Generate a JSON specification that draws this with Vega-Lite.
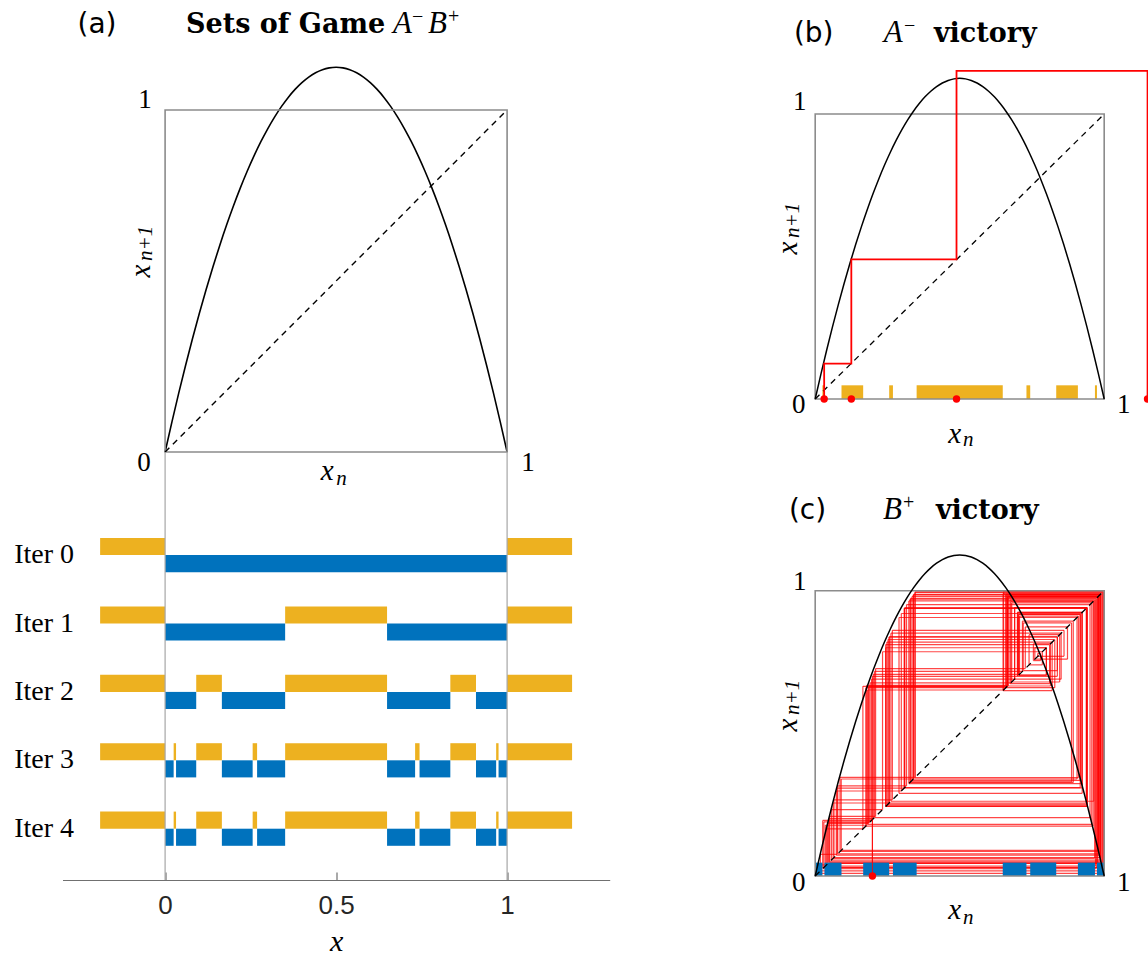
{
  "$schema": "https://vega.github.io/schema/vega-lite/v6.json",
  "background": "white",
  "padding": {"left": 13.5, "top": 0, "right": 0, "bottom": 0},
  "config": {"view": {"stroke": null}, "axis": {"grid": false}},
  "datasets": {
    "curve": [
      {"x": 0, "y": 0}, {"x": 0.02, "y": 0.0882}, {"x": 0.04, "y": 0.1728}, {"x": 0.06, "y": 0.2538}, {"x": 0.08, "y": 0.3312},
      {"x": 0.1, "y": 0.405}, {"x": 0.12, "y": 0.4752}, {"x": 0.14, "y": 0.5418}, {"x": 0.16, "y": 0.6048}, {"x": 0.18, "y": 0.6642},
      {"x": 0.2, "y": 0.72}, {"x": 0.22, "y": 0.7722}, {"x": 0.24, "y": 0.8208}, {"x": 0.26, "y": 0.8658}, {"x": 0.28, "y": 0.9072},
      {"x": 0.3, "y": 0.945}, {"x": 0.32, "y": 0.9792}, {"x": 0.34, "y": 1.0098}, {"x": 0.36, "y": 1.0368}, {"x": 0.38, "y": 1.0602},
      {"x": 0.4, "y": 1.08}, {"x": 0.42, "y": 1.0962}, {"x": 0.44, "y": 1.1088}, {"x": 0.46, "y": 1.1178}, {"x": 0.48, "y": 1.1232},
      {"x": 0.5, "y": 1.125}, {"x": 0.52, "y": 1.1232}, {"x": 0.54, "y": 1.1178}, {"x": 0.56, "y": 1.1088}, {"x": 0.58, "y": 1.0962},
      {"x": 0.6, "y": 1.08}, {"x": 0.62, "y": 1.0602}, {"x": 0.64, "y": 1.0368}, {"x": 0.66, "y": 1.0098}, {"x": 0.68, "y": 0.9792},
      {"x": 0.7, "y": 0.945}, {"x": 0.72, "y": 0.9072}, {"x": 0.74, "y": 0.8658}, {"x": 0.76, "y": 0.8208}, {"x": 0.78, "y": 0.7722},
      {"x": 0.8, "y": 0.72}, {"x": 0.82, "y": 0.6642}, {"x": 0.84, "y": 0.6048}, {"x": 0.86, "y": 0.5418}, {"x": 0.88, "y": 0.4752},
      {"x": 0.9, "y": 0.405}, {"x": 0.92, "y": 0.3312}, {"x": 0.94, "y": 0.2538}, {"x": 0.96, "y": 0.1728}, {"x": 0.98, "y": 0.0882},
      {"x": 1, "y": 0}
    ],
    "sets": [
      {"iter": "Iter 0", "set": "A", "x0": -0.19, "x1": 0}, {"iter": "Iter 0", "set": "A", "x0": 1, "x1": 1.19}, {"iter": "Iter 0", "set": "B", "x0": 0, "x1": 1},
      {"iter": "Iter 1", "set": "A", "x0": -0.19, "x1": 0}, {"iter": "Iter 1", "set": "A", "x0": 0.351, "x1": 0.649}, {"iter": "Iter 1", "set": "A", "x0": 1, "x1": 1.19},
      {"iter": "Iter 1", "set": "B", "x0": 0, "x1": 0.351}, {"iter": "Iter 1", "set": "B", "x0": 0.649, "x1": 1},
      {"iter": "Iter 2", "set": "A", "x0": -0.19, "x1": 0}, {"iter": "Iter 2", "set": "A", "x0": 0.091, "x1": 0.166}, {"iter": "Iter 2", "set": "A", "x0": 0.351, "x1": 0.649},
      {"iter": "Iter 2", "set": "A", "x0": 0.834, "x1": 0.909}, {"iter": "Iter 2", "set": "A", "x0": 1, "x1": 1.19},
      {"iter": "Iter 2", "set": "B", "x0": 0, "x1": 0.091}, {"iter": "Iter 2", "set": "B", "x0": 0.166, "x1": 0.351}, {"iter": "Iter 2", "set": "B", "x0": 0.649, "x1": 0.834}, {"iter": "Iter 2", "set": "B", "x0": 0.909, "x1": 1},
      {"iter": "Iter 3", "set": "A", "x0": -0.19, "x1": 0}, {"iter": "Iter 3", "set": "A", "x0": 0.025, "x1": 0.032}, {"iter": "Iter 3", "set": "A", "x0": 0.091, "x1": 0.166},
      {"iter": "Iter 3", "set": "A", "x0": 0.256, "x1": 0.269}, {"iter": "Iter 3", "set": "A", "x0": 0.351, "x1": 0.649}, {"iter": "Iter 3", "set": "A", "x0": 0.731, "x1": 0.744},
      {"iter": "Iter 3", "set": "A", "x0": 0.834, "x1": 0.909}, {"iter": "Iter 3", "set": "A", "x0": 0.968, "x1": 0.975}, {"iter": "Iter 3", "set": "A", "x0": 1, "x1": 1.19},
      {"iter": "Iter 3", "set": "B", "x0": 0, "x1": 0.025}, {"iter": "Iter 3", "set": "B", "x0": 0.032, "x1": 0.091}, {"iter": "Iter 3", "set": "B", "x0": 0.166, "x1": 0.256},
      {"iter": "Iter 3", "set": "B", "x0": 0.269, "x1": 0.351}, {"iter": "Iter 3", "set": "B", "x0": 0.649, "x1": 0.731}, {"iter": "Iter 3", "set": "B", "x0": 0.744, "x1": 0.834},
      {"iter": "Iter 3", "set": "B", "x0": 0.909, "x1": 0.968}, {"iter": "Iter 3", "set": "B", "x0": 0.975, "x1": 1},
      {"iter": "Iter 4", "set": "A", "x0": -0.19, "x1": 0}, {"iter": "Iter 4", "set": "A", "x0": 0.025, "x1": 0.032}, {"iter": "Iter 4", "set": "A", "x0": 0.091, "x1": 0.166},
      {"iter": "Iter 4", "set": "A", "x0": 0.256, "x1": 0.269}, {"iter": "Iter 4", "set": "A", "x0": 0.351, "x1": 0.649}, {"iter": "Iter 4", "set": "A", "x0": 0.731, "x1": 0.744},
      {"iter": "Iter 4", "set": "A", "x0": 0.834, "x1": 0.909}, {"iter": "Iter 4", "set": "A", "x0": 0.968, "x1": 0.975}, {"iter": "Iter 4", "set": "A", "x0": 1, "x1": 1.19},
      {"iter": "Iter 4", "set": "B", "x0": 0, "x1": 0.025}, {"iter": "Iter 4", "set": "B", "x0": 0.032, "x1": 0.091}, {"iter": "Iter 4", "set": "B", "x0": 0.166, "x1": 0.256},
      {"iter": "Iter 4", "set": "B", "x0": 0.269, "x1": 0.351}, {"iter": "Iter 4", "set": "B", "x0": 0.649, "x1": 0.731}, {"iter": "Iter 4", "set": "B", "x0": 0.744, "x1": 0.834},
      {"iter": "Iter 4", "set": "B", "x0": 0.909, "x1": 0.968}, {"iter": "Iter 4", "set": "B", "x0": 0.975, "x1": 1}
    ],
    "bpath": [
      {"i": 0, "x": 0.031, "y": 0}, {"i": 1, "x": 0.031, "y": 0.124}, {"i": 2, "x": 0.125, "y": 0.124}, {"i": 3, "x": 0.125, "y": 0.49},
      {"i": 4, "x": 0.489, "y": 0.49}, {"i": 5, "x": 0.489, "y": 1.151}, {"i": 6, "x": 1.15, "y": 1.151}, {"i": 7, "x": 1.15, "y": 0}
    ],
    "bdots": [{"x": 0.031}, {"x": 0.125}, {"x": 0.489}, {"x": 1.15}],
    "cdots": [{"x": 0.198}],
    "cweb": [
      {"i": 0, "x": 0.198, "y": 0},
      {"i": 1, "x": 0.198, "y": 0.7}, {"i": 2, "x": 0.7, "y": 0.7},
      {"i": 3, "x": 0.7, "y": 0.924}, {"i": 4, "x": 0.924, "y": 0.924},
      {"i": 5, "x": 0.924, "y": 0.309}, {"i": 6, "x": 0.309, "y": 0.309},
      {"i": 7, "x": 0.309, "y": 0.939}, {"i": 8, "x": 0.939, "y": 0.939},
      {"i": 9, "x": 0.939, "y": 0.252}, {"i": 10, "x": 0.252, "y": 0.252},
      {"i": 11, "x": 0.252, "y": 0.829}, {"i": 12, "x": 0.829, "y": 0.829},
      {"i": 13, "x": 0.829, "y": 0.66}, {"i": 14, "x": 0.66, "y": 0.66},
      {"i": 15, "x": 0.66, "y": 0.987}, {"i": 16, "x": 0.987, "y": 0.987},
      {"i": 17, "x": 0.987, "y": 0.056}, {"i": 18, "x": 0.056, "y": 0.056},
      {"i": 19, "x": 0.056, "y": 0.233}, {"i": 20, "x": 0.233, "y": 0.233},
      {"i": 21, "x": 0.233, "y": 0.786}, {"i": 22, "x": 0.786, "y": 0.786},
      {"i": 23, "x": 0.786, "y": 0.74}, {"i": 24, "x": 0.74, "y": 0.74},
      {"i": 25, "x": 0.74, "y": 0.846}, {"i": 26, "x": 0.846, "y": 0.846},
      {"i": 27, "x": 0.846, "y": 0.68}, {"i": 28, "x": 0.68, "y": 0.68},
      {"i": 29, "x": 0.68, "y": 0.957}, {"i": 30, "x": 0.957, "y": 0.957},
      {"i": 31, "x": 0.957, "y": 0.181}, {"i": 32, "x": 0.181, "y": 0.181},
      {"i": 33, "x": 0.181, "y": 0.652}, {"i": 34, "x": 0.652, "y": 0.652},
      {"i": 35, "x": 0.652, "y": 0.998}, {"i": 36, "x": 0.998, "y": 0.998},
      {"i": 37, "x": 0.998, "y": 0.009}, {"i": 38, "x": 0.009, "y": 0.009},
      {"i": 39, "x": 0.009, "y": 0.039}, {"i": 40, "x": 0.039, "y": 0.039},
      {"i": 41, "x": 0.039, "y": 0.165}, {"i": 42, "x": 0.165, "y": 0.165},
      {"i": 43, "x": 0.165, "y": 0.665}, {"i": 44, "x": 0.665, "y": 0.665},
      {"i": 45, "x": 0.665, "y": 0.98}, {"i": 46, "x": 0.98, "y": 0.98},
      {"i": 47, "x": 0.98, "y": 0.086}, {"i": 48, "x": 0.086, "y": 0.086},
      {"i": 49, "x": 0.086, "y": 0.346}, {"i": 50, "x": 0.346, "y": 0.346},
      {"i": 51, "x": 0.346, "y": 0.996}, {"i": 52, "x": 0.996, "y": 0.996},
      {"i": 53, "x": 0.996, "y": 0.018}, {"i": 54, "x": 0.018, "y": 0.018},
      {"i": 55, "x": 0.018, "y": 0.076}, {"i": 56, "x": 0.076, "y": 0.076},
      {"i": 57, "x": 0.076, "y": 0.308}, {"i": 58, "x": 0.308, "y": 0.308},
      {"i": 59, "x": 0.308, "y": 0.938}, {"i": 60, "x": 0.938, "y": 0.938},
      {"i": 61, "x": 0.938, "y": 0.256}, {"i": 62, "x": 0.256, "y": 0.256},
      {"i": 63, "x": 0.256, "y": 0.838}, {"i": 64, "x": 0.838, "y": 0.838},
      {"i": 65, "x": 0.838, "y": 0.7}, {"i": 66, "x": 0.7, "y": 0.7},
      {"i": 67, "x": 0.7, "y": 0.924}, {"i": 68, "x": 0.924, "y": 0.924},
      {"i": 69, "x": 0.924, "y": 0.29}, {"i": 70, "x": 0.29, "y": 0.29},
      {"i": 71, "x": 0.29, "y": 0.906}, {"i": 72, "x": 0.906, "y": 0.906},
      {"i": 73, "x": 0.906, "y": 0.34}, {"i": 74, "x": 0.34, "y": 0.34},
      {"i": 75, "x": 0.34, "y": 0.987}, {"i": 76, "x": 0.987, "y": 0.987},
      {"i": 77, "x": 0.987, "y": 0.048}, {"i": 78, "x": 0.048, "y": 0.048},
      {"i": 79, "x": 0.048, "y": 0.201}, {"i": 80, "x": 0.201, "y": 0.201},
      {"i": 81, "x": 0.201, "y": 0.707}, {"i": 82, "x": 0.707, "y": 0.707},
      {"i": 83, "x": 0.707, "y": 0.911}, {"i": 84, "x": 0.911, "y": 0.911},
      {"i": 85, "x": 0.911, "y": 0.345}, {"i": 86, "x": 0.345, "y": 0.345},
      {"i": 87, "x": 0.345, "y": 0.994}, {"i": 88, "x": 0.994, "y": 0.994},
      {"i": 89, "x": 0.994, "y": 0.03}, {"i": 90, "x": 0.03, "y": 0.03},
      {"i": 91, "x": 0.03, "y": 0.19}, {"i": 92, "x": 0.19, "y": 0.19},
      {"i": 93, "x": 0.19, "y": 0.677}, {"i": 94, "x": 0.677, "y": 0.677},
      {"i": 95, "x": 0.677, "y": 0.962}, {"i": 96, "x": 0.962, "y": 0.962},
      {"i": 97, "x": 0.962, "y": 0.175}, {"i": 98, "x": 0.175, "y": 0.175},
      {"i": 99, "x": 0.175, "y": 0.66}, {"i": 100, "x": 0.66, "y": 0.66},
      {"i": 101, "x": 0.66, "y": 0.987}, {"i": 102, "x": 0.987, "y": 0.987},
      {"i": 103, "x": 0.987, "y": 0.05}, {"i": 104, "x": 0.05, "y": 0.05},
      {"i": 105, "x": 0.05, "y": 0.209}, {"i": 106, "x": 0.209, "y": 0.209},
      {"i": 107, "x": 0.209, "y": 0.727}, {"i": 108, "x": 0.727, "y": 0.727},
      {"i": 109, "x": 0.727, "y": 0.873}, {"i": 110, "x": 0.873, "y": 0.873},
      {"i": 111, "x": 0.873, "y": 0.76}, {"i": 112, "x": 0.76, "y": 0.76},
      {"i": 113, "x": 0.76, "y": 0.8}, {"i": 114, "x": 0.8, "y": 0.8},
      {"i": 115, "x": 0.8, "y": 0.704}, {"i": 116, "x": 0.704, "y": 0.704},
      {"i": 117, "x": 0.704, "y": 0.917}, {"i": 118, "x": 0.917, "y": 0.917},
      {"i": 119, "x": 0.917, "y": 0.335}, {"i": 120, "x": 0.335, "y": 0.335},
      {"i": 121, "x": 0.335, "y": 0.98}, {"i": 122, "x": 0.98, "y": 0.98},
      {"i": 123, "x": 0.98, "y": 0.078}, {"i": 124, "x": 0.078, "y": 0.078},
      {"i": 125, "x": 0.078, "y": 0.316}, {"i": 126, "x": 0.316, "y": 0.316},
      {"i": 127, "x": 0.316, "y": 0.951}, {"i": 128, "x": 0.951, "y": 0.951},
      {"i": 129, "x": 0.951, "y": 0.205}, {"i": 130, "x": 0.205, "y": 0.205},
      {"i": 131, "x": 0.205, "y": 0.717}, {"i": 132, "x": 0.717, "y": 0.717},
      {"i": 133, "x": 0.717, "y": 0.893}, {"i": 134, "x": 0.893, "y": 0.893},
      {"i": 135, "x": 0.893, "y": 0.328}, {"i": 136, "x": 0.328, "y": 0.328},
      {"i": 137, "x": 0.328, "y": 0.97}, {"i": 138, "x": 0.97, "y": 0.97},
      {"i": 139, "x": 0.97, "y": 0.035}, {"i": 140, "x": 0.035, "y": 0.035},
      {"i": 141, "x": 0.035, "y": 0.178}, {"i": 142, "x": 0.178, "y": 0.178},
      {"i": 143, "x": 0.178, "y": 0.668}, {"i": 144, "x": 0.668, "y": 0.668},
      {"i": 145, "x": 0.668, "y": 0.976}, {"i": 146, "x": 0.976, "y": 0.976},
      {"i": 147, "x": 0.976, "y": 0.044}, {"i": 148, "x": 0.044, "y": 0.044},
      {"i": 149, "x": 0.044, "y": 0.185}, {"i": 150, "x": 0.185, "y": 0.185},
      {"i": 151, "x": 0.185, "y": 0.663}, {"i": 152, "x": 0.663, "y": 0.663},
      {"i": 153, "x": 0.663, "y": 0.983}, {"i": 154, "x": 0.983, "y": 0.983},
      {"i": 155, "x": 0.983, "y": 0.073}, {"i": 156, "x": 0.073, "y": 0.073},
      {"i": 157, "x": 0.073, "y": 0.298}, {"i": 158, "x": 0.298, "y": 0.298},
      {"i": 159, "x": 0.298, "y": 0.92}, {"i": 160, "x": 0.92, "y": 0.92},
      {"i": 161, "x": 0.92, "y": 0.324}, {"i": 162, "x": 0.324, "y": 0.324},
      {"i": 163, "x": 0.324, "y": 0.964}, {"i": 164, "x": 0.964, "y": 0.964},
      {"i": 165, "x": 0.964, "y": 0.262}, {"i": 166, "x": 0.262, "y": 0.262},
      {"i": 167, "x": 0.262, "y": 0.851}, {"i": 168, "x": 0.851, "y": 0.851},
      {"i": 169, "x": 0.851, "y": 0.69}, {"i": 170, "x": 0.69, "y": 0.69},
      {"i": 171, "x": 0.69, "y": 0.941}, {"i": 172, "x": 0.941, "y": 0.941},
      {"i": 173, "x": 0.941, "y": 0.244}, {"i": 174, "x": 0.244, "y": 0.244},
      {"i": 175, "x": 0.244, "y": 0.811}, {"i": 176, "x": 0.811, "y": 0.811},
      {"i": 177, "x": 0.811, "y": 0.674}, {"i": 178, "x": 0.674, "y": 0.674},
      {"i": 179, "x": 0.674, "y": 0.967}, {"i": 180, "x": 0.967, "y": 0.967},
      {"i": 181, "x": 0.967, "y": 0.062}, {"i": 182, "x": 0.062, "y": 0.062},
      {"i": 183, "x": 0.062, "y": 0.256}, {"i": 184, "x": 0.256, "y": 0.256},
      {"i": 185, "x": 0.256, "y": 0.838}, {"i": 186, "x": 0.838, "y": 0.838},
      {"i": 187, "x": 0.838, "y": 0.72}, {"i": 188, "x": 0.72, "y": 0.72},
      {"i": 189, "x": 0.72, "y": 0.887}, {"i": 190, "x": 0.887, "y": 0.887},
      {"i": 191, "x": 0.887, "y": 0.33}, {"i": 192, "x": 0.33, "y": 0.33},
      {"i": 193, "x": 0.33, "y": 0.973}, {"i": 194, "x": 0.973, "y": 0.973},
      {"i": 195, "x": 0.973, "y": 0.026}, {"i": 196, "x": 0.026, "y": 0.026},
      {"i": 197, "x": 0.026, "y": 0.195}, {"i": 198, "x": 0.195, "y": 0.195},
      {"i": 199, "x": 0.195, "y": 0.69}, {"i": 200, "x": 0.69, "y": 0.69},
      {"i": 201, "x": 0.69, "y": 0.941}, {"i": 202, "x": 0.941, "y": 0.941},
      {"i": 203, "x": 0.941, "y": 0.244}, {"i": 204, "x": 0.244, "y": 0.244},
      {"i": 205, "x": 0.244, "y": 0.8}, {"i": 206, "x": 0.8, "y": 0.8},
      {"i": 207, "x": 0.8, "y": 0.704}, {"i": 208, "x": 0.704, "y": 0.704},
      {"i": 209, "x": 0.704, "y": 0.917}, {"i": 210, "x": 0.917, "y": 0.917},
      {"i": 211, "x": 0.917, "y": 0.31}, {"i": 212, "x": 0.31, "y": 0.31},
      {"i": 213, "x": 0.31, "y": 0.94}, {"i": 214, "x": 0.94, "y": 0.94},
      {"i": 215, "x": 0.94, "y": 0.248}, {"i": 216, "x": 0.248, "y": 0.248},
      {"i": 217, "x": 0.248, "y": 0.82}, {"i": 218, "x": 0.82, "y": 0.82},
      {"i": 219, "x": 0.82, "y": 0.65}, {"i": 220, "x": 0.65, "y": 0.65},
      {"i": 221, "x": 0.65, "y": 0.99}, {"i": 222, "x": 0.99, "y": 0.99},
      {"i": 223, "x": 0.99, "y": 0.044}, {"i": 224, "x": 0.044, "y": 0.044},
      {"i": 225, "x": 0.044, "y": 0.186}, {"i": 226, "x": 0.186, "y": 0.186},
      {"i": 227, "x": 0.186, "y": 0.666}, {"i": 228, "x": 0.666, "y": 0.666},
      {"i": 229, "x": 0.666, "y": 0.979}, {"i": 230, "x": 0.979, "y": 0.979},
      {"i": 231, "x": 0.979, "y": 0.09}, {"i": 232, "x": 0.09, "y": 0.09},
      {"i": 233, "x": 0.09, "y": 0.34}, {"i": 234, "x": 0.34, "y": 0.34},
      {"i": 235, "x": 0.34, "y": 0.985}, {"i": 236, "x": 0.985, "y": 0.985},
      {"i": 237, "x": 0.985, "y": 0.065}, {"i": 238, "x": 0.065, "y": 0.065},
      {"i": 239, "x": 0.065, "y": 0.267}, {"i": 240, "x": 0.267, "y": 0.267},
      {"i": 241, "x": 0.267, "y": 0.861}, {"i": 242, "x": 0.861, "y": 0.861},
      {"i": 243, "x": 0.861, "y": 0.77}, {"i": 244, "x": 0.77, "y": 0.77},
      {"i": 245, "x": 0.77, "y": 0.78}, {"i": 246, "x": 0.78, "y": 0.78},
      {"i": 247, "x": 0.78, "y": 0.755}, {"i": 248, "x": 0.755, "y": 0.755},
      {"i": 249, "x": 0.755, "y": 0.814}, {"i": 250, "x": 0.814, "y": 0.814},
      {"i": 251, "x": 0.814, "y": 0.666}, {"i": 252, "x": 0.666, "y": 0.666},
      {"i": 253, "x": 0.666, "y": 0.978}, {"i": 254, "x": 0.978, "y": 0.978},
      {"i": 255, "x": 0.978, "y": 0.03}, {"i": 256, "x": 0.03, "y": 0.03}
    ]
  },
  "columns": 2,
  "bounds": "flush",
  "align": "each",
  "spacing": {"row": 0, "column": 175.8},
  "concat": [
    {
      "width": 547.2,
      "height": 452,
      "layer": [
        {"data": {"name": "curve"}, "mark": {"type": "line", "color": "black", "strokeWidth": 1.6, "interpolate": "monotone"},
         "encoding": {"x": {"field": "x", "type": "quantitative", "scale": {"domain": [-0.3, 1.3], "nice": false, "zero": false}, "axis": null},
                      "y": {"field": "y", "type": "quantitative", "scale": {"domain": [0, 1.3216], "nice": false, "zero": false}, "axis": null}}},
        {"data": {"values": [{}]}, "mark": {"type": "rect", "filled": false, "stroke": "#8c8c8c", "strokeWidth": 1.6},
         "encoding": {"x": {"datum": 0, "axis": null}, "x2": {"datum": 1}, "y": {"datum": 0, "axis": null}, "y2": {"datum": 1}}},
        {"data": {"values": [{}]}, "mark": {"type": "rule", "color": "black", "strokeWidth": 1.4, "strokeDash": [6, 5]},
         "encoding": {"x": {"datum": 0, "axis": null}, "x2": {"datum": 1}, "y": {"datum": 0, "axis": null}, "y2": {"datum": 1}}},
        {"data": {"values": [{}]}, "mark": {"type": "text", "text": "(a)", "font": "DejaVu Sans", "fontSize": 28, "align": "center", "baseline": "alphabetic", "color": "black"},
         "encoding": {"x": {"datum": -0.199, "axis": null}, "y": {"datum": 1.225, "axis": null}}},
        {"data": {"values": [{}]}, "mark": {"type": "text", "text": "Sets of Game", "font": "DejaVu Serif", "fontWeight": "bold", "fontSize": 27, "align": "left", "baseline": "alphabetic", "color": "black"},
         "encoding": {"x": {"datum": 0.0614, "axis": null}, "y": {"datum": 1.225, "axis": null}}},
        {"data": {"values": [{}]}, "mark": {"type": "text", "text": "A", "font": "Liberation Serif", "fontStyle": "italic", "fontSize": 31, "align": "left", "baseline": "alphabetic", "color": "black"},
         "encoding": {"x": {"datum": 0.6667, "axis": null}, "y": {"datum": 1.225, "axis": null}}},
        {"data": {"values": [{}]}, "mark": {"type": "text", "text": "−", "font": "Liberation Serif", "fontSize": 20, "align": "left", "baseline": "alphabetic", "color": "black"},
         "encoding": {"x": {"datum": 0.7222, "axis": null}, "y": {"datum": 1.2544, "axis": null}}},
        {"data": {"values": [{}]}, "mark": {"type": "text", "text": "B", "font": "Liberation Serif", "fontStyle": "italic", "fontSize": 31, "align": "left", "baseline": "alphabetic", "color": "black"},
         "encoding": {"x": {"datum": 0.7690, "axis": null}, "y": {"datum": 1.225, "axis": null}}},
        {"data": {"values": [{}]}, "mark": {"type": "text", "text": "+", "font": "Liberation Serif", "fontSize": 20, "align": "left", "baseline": "alphabetic", "color": "black"},
         "encoding": {"x": {"datum": 0.8275, "axis": null}, "y": {"datum": 1.2544, "axis": null}}},
        {"data": {"values": [{}]}, "mark": {"type": "text", "text": "1", "font": "Liberation Serif", "fontSize": 27, "color": "black"},
         "encoding": {"x": {"datum": -0.0585, "axis": null}, "y": {"datum": 1.029, "axis": null}}},
        {"data": {"values": [{}]}, "mark": {"type": "text", "text": "0", "font": "Liberation Serif", "fontSize": 27, "color": "black"},
         "encoding": {"x": {"datum": -0.0614, "axis": null}, "y": {"datum": -0.032, "axis": null}}},
        {"data": {"values": [{}]}, "mark": {"type": "text", "text": "1", "font": "Liberation Serif", "fontSize": 27, "color": "black"},
         "encoding": {"x": {"datum": 1.061, "axis": null}, "y": {"datum": -0.032, "axis": null}}},
        {"data": {"values": [{}]}, "mark": {"type": "text", "text": "x", "font": "Liberation Serif", "fontStyle": "italic", "fontSize": 29, "color": "black"},
         "encoding": {"x": {"datum": 0.474, "axis": null}, "y": {"datum": -0.0556, "axis": null}}},
        {"data": {"values": [{}]}, "mark": {"type": "text", "text": "n", "font": "Liberation Serif", "fontStyle": "italic", "fontSize": 21, "color": "black"},
         "encoding": {"x": {"datum": 0.516, "axis": null}, "y": {"datum": -0.079, "axis": null}}},
        {"data": {"values": [{}]}, "mark": {"type": "text", "text": "x", "angle": 270, "font": "Liberation Serif", "fontStyle": "italic", "fontSize": 29, "color": "black"},
         "encoding": {"x": {"datum": -0.0702, "axis": null}, "y": {"datum": 0.529, "axis": null}}},
        {"data": {"values": [{}]}, "mark": {"type": "text", "text": "n+1", "angle": 270, "font": "Liberation Serif", "fontStyle": "italic", "fontSize": 21, "color": "black"},
         "encoding": {"x": {"datum": -0.0556, "axis": null}, "y": {"datum": 0.61, "axis": null}}}
      ]
    },
    {
      "width": 362.6,
      "height": 452,
      "layer": [
        {"data": {"name": "sets"}, "transform": [{"filter": "datum.iter == 'Iter 4' && datum.set == 'A' && datum.x0 >= 0 && datum.x1 <= 1"}],
         "mark": {"type": "rect", "color": "#EDB120"},
         "encoding": {"x": {"field": "x0", "type": "quantitative", "scale": {"domain": [-0.1, 1.1547], "nice": false, "zero": false}, "axis": null},
                      "x2": {"field": "x1"},
                      "y": {"datum": 0, "scale": {"domain": [-0.186, 1.4], "nice": false, "zero": false}, "axis": null}, "y2": {"datum": 0.048}}},
        {"data": {"values": [{}]}, "mark": {"type": "rect", "filled": false, "stroke": "#8c8c8c", "strokeWidth": 1.6},
         "encoding": {"x": {"datum": 0, "axis": null}, "x2": {"datum": 1}, "y": {"datum": 0, "axis": null}, "y2": {"datum": 1}}},
        {"data": {"name": "curve"}, "mark": {"type": "line", "color": "black", "strokeWidth": 1.5, "interpolate": "monotone"},
         "encoding": {"x": {"field": "x", "type": "quantitative", "axis": null}, "y": {"field": "y", "type": "quantitative", "axis": null}}},
        {"data": {"values": [{}]}, "mark": {"type": "rule", "color": "black", "strokeWidth": 1.3, "strokeDash": [6, 5]},
         "encoding": {"x": {"datum": 0, "axis": null}, "x2": {"datum": 1}, "y": {"datum": 0, "axis": null}, "y2": {"datum": 1}}},
        {"data": {"name": "bpath"}, "mark": {"type": "line", "color": "#ff0000", "strokeWidth": 1.8},
         "encoding": {"x": {"field": "x", "type": "quantitative", "axis": null}, "y": {"field": "y", "type": "quantitative", "axis": null}, "order": {"field": "i", "type": "quantitative"}}},
        {"data": {"name": "bdots"}, "mark": {"type": "point", "filled": true, "color": "#ff0000", "size": 55, "opacity": 1, "clip": true},
         "encoding": {"x": {"field": "x", "type": "quantitative", "axis": null}, "y": {"datum": 0, "axis": null}}},
        {"data": {"values": [{}]}, "mark": {"type": "text", "text": "(b)", "font": "DejaVu Sans", "fontSize": 28, "align": "left", "baseline": "alphabetic", "color": "black"},
         "encoding": {"x": {"datum": -0.0737, "axis": null}, "y": {"datum": 1.253, "axis": null}}},
        {"data": {"values": [{}]}, "mark": {"type": "text", "text": "A", "font": "Liberation Serif", "fontStyle": "italic", "fontSize": 31, "align": "left", "baseline": "alphabetic", "color": "black"},
         "encoding": {"x": {"datum": 0.2374, "axis": null}, "y": {"datum": 1.253, "axis": null}}},
        {"data": {"values": [{}]}, "mark": {"type": "text", "text": "−", "font": "Liberation Serif", "fontSize": 20, "align": "left", "baseline": "alphabetic", "color": "black"},
         "encoding": {"x": {"datum": 0.3069, "axis": null}, "y": {"datum": 1.2877, "axis": null}}},
        {"data": {"values": [{}]}, "mark": {"type": "text", "text": "victory", "font": "DejaVu Serif", "fontWeight": "bold", "fontSize": 27, "align": "left", "baseline": "alphabetic", "color": "black"},
         "encoding": {"x": {"datum": 0.4107, "axis": null}, "y": {"datum": 1.253, "axis": null}}},
        {"data": {"values": [{}]}, "mark": {"type": "text", "text": "1", "font": "Liberation Serif", "fontSize": 27, "color": "black"},
         "encoding": {"x": {"datum": -0.0536, "axis": null}, "y": {"datum": 1.042, "axis": null}}},
        {"data": {"values": [{}]}, "mark": {"type": "text", "text": "0", "font": "Liberation Serif", "fontSize": 27, "color": "black"},
         "encoding": {"x": {"datum": -0.0571, "axis": null}, "y": {"datum": -0.022, "axis": null}}},
        {"data": {"values": [{}]}, "mark": {"type": "text", "text": "1", "font": "Liberation Serif", "fontSize": 27, "color": "black"},
         "encoding": {"x": {"datum": 1.068, "axis": null}, "y": {"datum": -0.022, "axis": null}}},
        {"data": {"values": [{}]}, "mark": {"type": "text", "text": "x", "font": "Liberation Serif", "fontStyle": "italic", "fontSize": 29, "color": "black"},
         "encoding": {"x": {"datum": 0.483, "axis": null}, "y": {"datum": -0.1228, "axis": null}}},
        {"data": {"values": [{}]}, "mark": {"type": "text", "text": "n", "font": "Liberation Serif", "fontStyle": "italic", "fontSize": 21, "color": "black"},
         "encoding": {"x": {"datum": 0.53, "axis": null}, "y": {"datum": -0.1439, "axis": null}}},
        {"data": {"values": [{}]}, "mark": {"type": "text", "text": "x", "angle": 270, "font": "Liberation Serif", "fontStyle": "italic", "fontSize": 29, "color": "black"},
         "encoding": {"x": {"datum": -0.0945, "axis": null}, "y": {"datum": 0.53, "axis": null}}},
        {"data": {"values": [{}]}, "mark": {"type": "text", "text": "n+1", "angle": 270, "font": "Liberation Serif", "fontStyle": "italic", "fontSize": 21, "color": "black"},
         "encoding": {"x": {"datum": -0.0772, "axis": null}, "y": {"datum": 0.627, "axis": null}}}
      ]
    },
    {
      "width": 547.2,
      "height": 428,
      "layer": [
        {"data": {"name": "sets"}, "mark": {"type": "bar"},
         "encoding": {
           "x": {"field": "x0", "type": "quantitative", "scale": {"domain": [-0.3, 1.3], "nice": false, "zero": false},
                 "axis": {"values": [0, 0.5, 1], "format": "~g", "grid": false, "domainColor": "#707070", "domainWidth": 1.2, "tickColor": "#707070", "tickSize": -8, "tickWidth": 1.2,
                          "labelFont": "Liberation Sans", "labelFontSize": 26, "labelColor": "#262626", "labelPadding": 20,
                          "title": "x", "titleFont": "Liberation Serif", "titleFontStyle": "italic", "titleFontWeight": "normal", "titleFontSize": 30, "titleColor": "black", "titlePadding": 8}},
           "x2": {"field": "x1"},
           "y": {"field": "iter", "type": "ordinal", "scale": {"type": "band", "paddingInner": 0.5, "paddingOuter": 0.8787, "align": 0.7155},
                 "axis": {"title": null, "domain": false, "ticks": false, "grid": false, "labelFont": "Liberation Serif", "labelFontSize": 28, "labelColor": "black", "labelPadding": -11}},
           "yOffset": {"field": "set", "type": "nominal", "scale": {"domain": ["A", "B"], "paddingInner": 0, "paddingOuter": 0}},
           "color": {"field": "set", "type": "nominal", "scale": {"domain": ["A", "B"], "range": ["#EDB120", "#0072BD"]}, "legend": null}
         }},
        {"data": {"values": [{}]}, "mark": {"type": "rule", "color": "#a6a6a6", "strokeWidth": 1.2}, "encoding": {"x": {"datum": 0}}},
        {"data": {"values": [{}]}, "mark": {"type": "rule", "color": "#a6a6a6", "strokeWidth": 1.2}, "encoding": {"x": {"datum": 1}}}
      ]
    },
    {
      "width": 362.6,
      "height": 475.4,
      "layer": [
        {"data": {"name": "cweb"},
         "transform": [{"window": [{"op": "lead", "field": "x", "as": "x2"}, {"op": "lead", "field": "y", "as": "y2"}], "sort": [{"field": "i", "order": "ascending"}]}, {"filter": "datum.x2 != null"}],
         "mark": {"type": "rule", "color": "#ff0000", "strokeWidth": 1.2, "opacity": 0.72},
         "encoding": {"x": {"field": "x", "type": "quantitative", "scale": {"domain": [-0.1, 1.1547], "nice": false, "zero": false}, "axis": null},
                      "y": {"field": "y", "type": "quantitative", "scale": {"domain": [-0.18, 1.486], "nice": false, "zero": false}, "axis": null},
                      "x2": {"field": "x2"}, "y2": {"field": "y2"}}},
        {"data": {"name": "sets"}, "transform": [{"filter": "datum.iter == 'Iter 4' && datum.set == 'B'"}],
         "mark": {"type": "rect", "color": "#0072BD"},
         "encoding": {"x": {"field": "x0", "type": "quantitative", "axis": null}, "x2": {"field": "x1"},
                      "y": {"datum": 0, "axis": null}, "y2": {"datum": 0.047}}},
        {"data": {"values": [{}]}, "mark": {"type": "rect", "filled": false, "stroke": "#8c8c8c", "strokeWidth": 1.6},
         "encoding": {"x": {"datum": 0, "axis": null}, "x2": {"datum": 1}, "y": {"datum": 0, "axis": null}, "y2": {"datum": 1}}},
        {"data": {"name": "curve"}, "mark": {"type": "line", "color": "black", "strokeWidth": 1.5, "interpolate": "monotone"},
         "encoding": {"x": {"field": "x", "type": "quantitative", "axis": null}, "y": {"field": "y", "type": "quantitative", "axis": null}}},
        {"data": {"values": [{}]}, "mark": {"type": "rule", "color": "black", "strokeWidth": 1.3, "strokeDash": [6, 5]},
         "encoding": {"x": {"datum": 0, "axis": null}, "x2": {"datum": 1}, "y": {"datum": 0, "axis": null}, "y2": {"datum": 1}}},
        {"data": {"name": "cdots"}, "mark": {"type": "rule", "color": "#ff0000", "strokeWidth": 1, "opacity": 0.85},
         "encoding": {"x": {"field": "x", "type": "quantitative", "axis": null}, "y": {"datum": 0, "axis": null}, "y2": {"datum": 0.198}}},
        {"data": {"name": "cdots"}, "mark": {"type": "point", "filled": true, "color": "#ff0000", "size": 55, "opacity": 1},
         "encoding": {"x": {"field": "x", "type": "quantitative", "axis": null}, "y": {"datum": 0, "axis": null}}},
        {"data": {"values": [{}]}, "mark": {"type": "text", "text": "(c)", "font": "DejaVu Sans", "fontSize": 28, "align": "left", "baseline": "alphabetic", "color": "black"},
         "encoding": {"x": {"datum": -0.091, "axis": null}, "y": {"datum": 1.251, "axis": null}}},
        {"data": {"values": [{}]}, "mark": {"type": "text", "text": "B", "font": "Liberation Serif", "fontStyle": "italic", "fontSize": 31, "align": "left", "baseline": "alphabetic", "color": "black"},
         "encoding": {"x": {"datum": 0.2342, "axis": null}, "y": {"datum": 1.251, "axis": null}}},
        {"data": {"values": [{}]}, "mark": {"type": "text", "text": "+", "font": "Liberation Serif", "fontSize": 20, "align": "left", "baseline": "alphabetic", "color": "black"},
         "encoding": {"x": {"datum": 0.3035, "axis": null}, "y": {"datum": 1.2864, "axis": null}}},
        {"data": {"values": [{}]}, "mark": {"type": "text", "text": "victory", "font": "DejaVu Serif", "fontWeight": "bold", "fontSize": 27, "align": "left", "baseline": "alphabetic", "color": "black"},
         "encoding": {"x": {"datum": 0.4176, "axis": null}, "y": {"datum": 1.251, "axis": null}}},
        {"data": {"values": [{}]}, "mark": {"type": "text", "text": "1", "font": "Liberation Serif", "fontSize": 27, "color": "black"},
         "encoding": {"x": {"datum": -0.0536, "axis": null}, "y": {"datum": 1.03, "axis": null}}},
        {"data": {"values": [{}]}, "mark": {"type": "text", "text": "0", "font": "Liberation Serif", "fontSize": 27, "color": "black"},
         "encoding": {"x": {"datum": -0.0571, "axis": null}, "y": {"datum": -0.0245, "axis": null}}},
        {"data": {"values": [{}]}, "mark": {"type": "text", "text": "1", "font": "Liberation Serif", "fontSize": 27, "color": "black"},
         "encoding": {"x": {"datum": 1.068, "axis": null}, "y": {"datum": -0.0245, "axis": null}}},
        {"data": {"values": [{}]}, "mark": {"type": "text", "text": "x", "font": "Liberation Serif", "fontStyle": "italic", "fontSize": 29, "color": "black"},
         "encoding": {"x": {"datum": 0.483, "axis": null}, "y": {"datum": -0.119, "axis": null}}},
        {"data": {"values": [{}]}, "mark": {"type": "text", "text": "n", "font": "Liberation Serif", "fontStyle": "italic", "fontSize": 21, "color": "black"},
         "encoding": {"x": {"datum": 0.53, "axis": null}, "y": {"datum": -0.147, "axis": null}}},
        {"data": {"values": [{}]}, "mark": {"type": "text", "text": "x", "angle": 270, "font": "Liberation Serif", "fontStyle": "italic", "fontSize": 29, "color": "black"},
         "encoding": {"x": {"datum": -0.0945, "axis": null}, "y": {"datum": 0.529, "axis": null}}},
        {"data": {"values": [{}]}, "mark": {"type": "text", "text": "n+1", "angle": 270, "font": "Liberation Serif", "fontStyle": "italic", "fontSize": 21, "color": "black"},
         "encoding": {"x": {"datum": -0.0772, "axis": null}, "y": {"datum": 0.626, "axis": null}}}
      ]
    }
  ]
}
